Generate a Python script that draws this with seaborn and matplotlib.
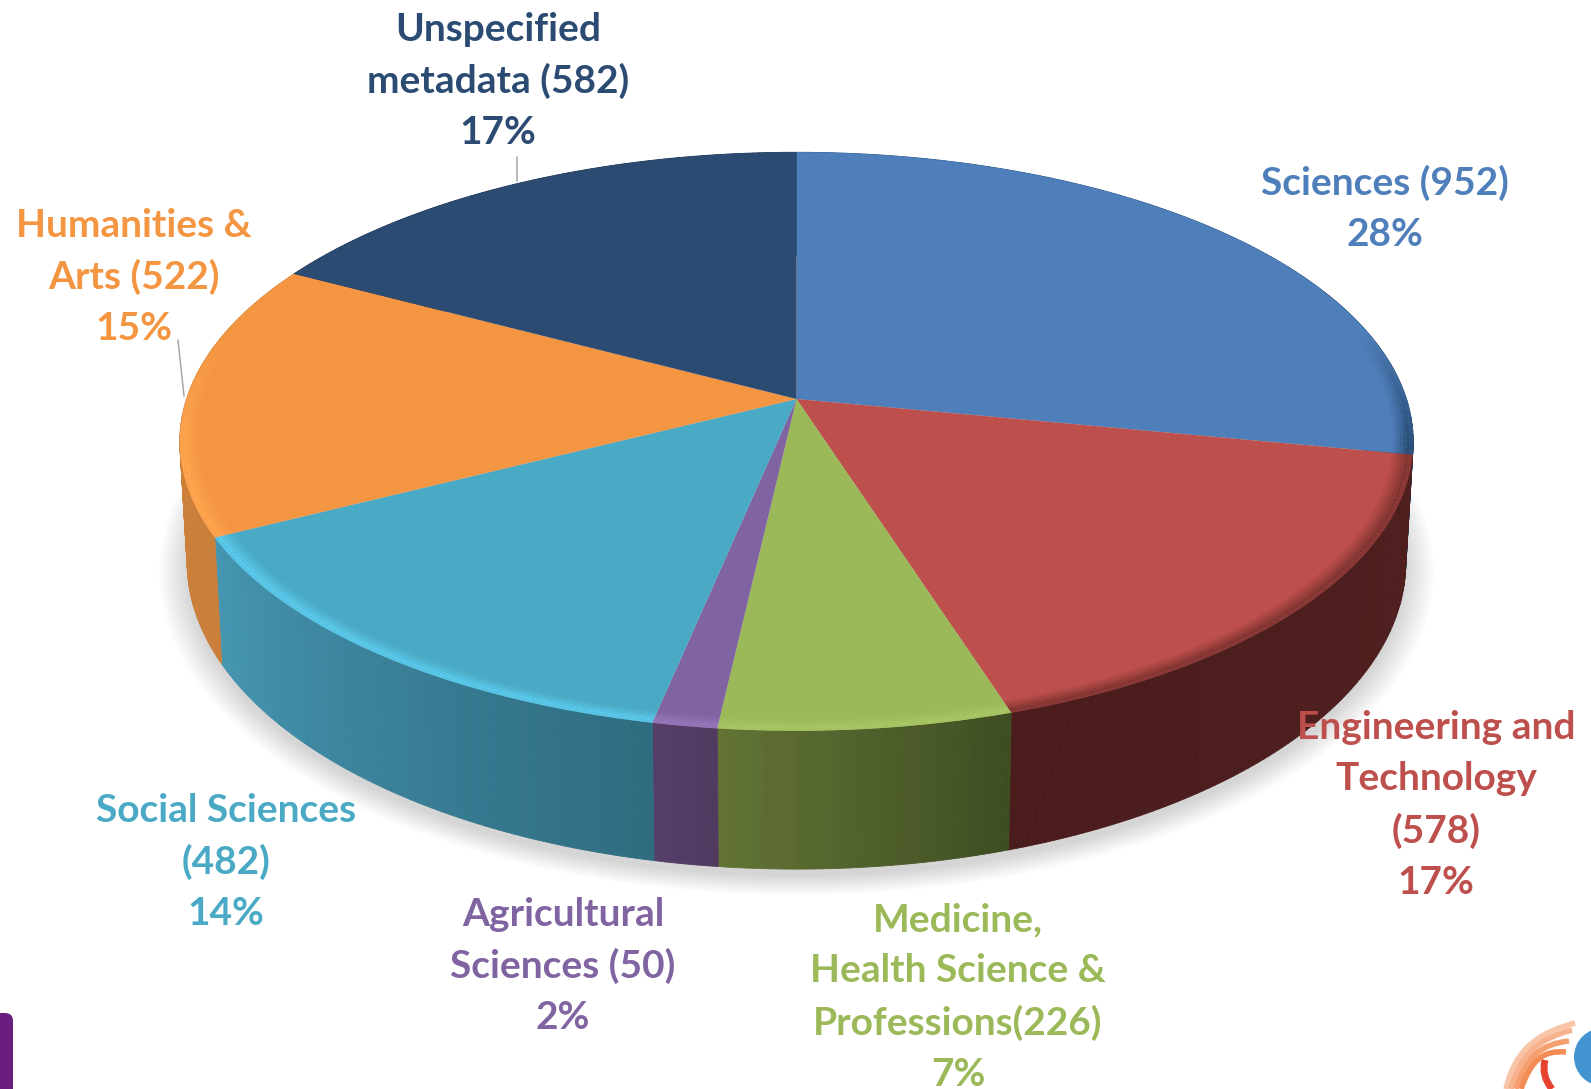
import numpy as np
import matplotlib
matplotlib.use("Agg")
import matplotlib.pyplot as plt
import seaborn as sns
from matplotlib.collections import PolyCollection
from matplotlib.colors import to_rgb
from matplotlib.patches import FancyBboxPatch, Circle, PathPatch
from matplotlib.path import Path
from matplotlib.transforms import Transform

sns.set_theme(style="white")
plt.rcParams["font.family"] = ["Lato", "DejaVu Sans"]

# ---------- data ----------
categories = ["Sciences", "Engineering and Technology", "Medicine, Health Science & Professions",
              "Agricultural Sciences", "Social Sciences", "Humanities & Arts", "Unspecified metadata"]
counts = [952, 578, 226, 50, 482, 522, 582]
percents = [28, 17, 7, 2, 14, 15, 17]
label_texts = ["Sciences (952)\n28%",
               "Engineering and\nTechnology\n(578)\n17%",
               "Medicine,\nHealth Science &\nProfessions(226)\n7%",
               "Agricultural\nSciences (50)\n2%",
               "Social Sciences\n(482)\n14%",
               "Humanities &\nArts (522)\n15%",
               "Unspecified\nmetadata (582)\n17%"]
top_colors = ["#4f7fba", "#bd4f4c", "#9bb958", "#8064a2", "#4aa9c4", "#f49542", "#2b4b73"]
wall_start = ["#2f5d90", "#4f1f1e", "#3f4e22", "#503a60", "#2f6c80", "#c97f3a", "#1d3350"]
wall_end = ["#24486f", "#4a1d1c", "#627335", "#553e68", "#4596b2", "#d0843c", "#1d3350"]
rim_colors = ["#27486f", "#7d3331", "#a9c765", "#9c7cc0", "#5ccbee", "#ffa64f", "#2c4d75"]
label_xy = [(1385, 208), (1436, 805), (958, 997), (563, 966), (226, 862), (134, 277), (498, 81)]

# ---------- geometry of the tilted disc (pixels) ----------
W, H = 1591, 1089
CX, CY = 796.5, 399.0
A, B, K = 283.0, 610.0, 0.147
DEPTH, BOTTOM_X = 118.0, 0.988


def project(x, y, drop=0.0, xs=1.0):
    d = 1 + K * np.asarray(y)
    return CX + xs * B * np.asarray(x) / d, CY - A * np.asarray(y) / d + drop / d


class Perspective(Transform):
    input_dims = output_dims = 2
    is_separable = False
    has_inverse = False

    def transform_non_affine(self, values):
        v = np.asarray(values)
        return np.column_stack(project(v[:, 0], v[:, 1]))


fig = plt.figure(figsize=(W / 100, H / 100), dpi=100, facecolor="white")
ax = fig.add_axes([0, 0, 1, 1])

edges = 90 - 360 * np.concatenate([[0], np.cumsum(counts)]) / np.sum(counts)
theta = np.radians(np.linspace(0, 360, 721))

# soft shadow under the disc
for s in np.linspace(0.045, 0.0, 14):
    sx, sy = project((1 + s) * np.cos(theta), (1 + s) * np.sin(theta), DEPTH + 6, BOTTOM_X)
    ax.fill(sx, sy, color="#808080", alpha=0.024, lw=0, zorder=1)

# side wall, shaded along the rim
for i in range(len(counts)):
    t = np.radians(np.linspace(edges[i], edges[i + 1], max(4, int(abs(edges[i + 1] - edges[i]) * 1.5))))
    c0, c1 = np.array(to_rgb(wall_start[i])), np.array(to_rgb(wall_end[i]))
    polys, cols = [], []
    for j in range(len(t) - 1):
        xa, ya = project(np.cos(t[j:j + 2]), np.sin(t[j:j + 2]))
        xb, yb = project(np.cos(t[j:j + 2]), np.sin(t[j:j + 2]), DEPTH, BOTTOM_X)
        polys.append(np.column_stack([np.r_[xa, xb[::-1]], np.r_[ya, yb[::-1]]]))
        cols.append(c0 + (c1 - c0) * j / max(1, len(t) - 2))
    ax.add_collection(PolyCollection(polys, facecolors=cols, edgecolors=cols, linewidths=0.6, zorder=2))

# top face
ax.pie(counts, colors=top_colors, startangle=90, counterclock=False, radius=1,
       wedgeprops=dict(transform=Perspective() + ax.transData, linewidth=0, zorder=3))

# bevel along the front of the rim, fading out towards the back
radii = np.linspace(0.968, 1.0, 7)
alphas = [0.12, 0.3, 0.5, 0.75, 0.95, 0.85]
for i in range(len(counts)):
    t = np.radians(np.linspace(edges[i], edges[i + 1], 80))
    rgb = to_rgb(rim_colors[i])
    for r0, r1, al in zip(radii[:-1], radii[1:], alphas):
        polys, cols = [], []
        for j in range(len(t) - 1):
            seg = t[j:j + 2]
            fade = np.clip((0.25 - np.sin(seg.mean())) / 0.4, 0, 1)
            if fade <= 0:
                continue
            xa, ya = project(r0 * np.cos(seg), r0 * np.sin(seg))
            xb, yb = project(r1 * np.cos(seg), r1 * np.sin(seg))
            polys.append(np.column_stack([np.r_[xa, xb[::-1]], np.r_[ya, yb[::-1]]]))
            cols.append((*rgb, al * fade))
        if polys:
            ax.add_collection(PolyCollection(polys, facecolors=cols, edgecolors="none", zorder=4))

# leader lines
ax.plot([516.5, 516.5], [157, 181], color="#a6a6a6", lw=1.1, zorder=5)
ax.plot([178, 184], [340, 396], color="#a6a6a6", lw=1.1, zorder=5)

# labels
for txt, (lx, ly), col in zip(label_texts, label_xy, top_colors):
    ax.text(lx, ly, txt, color=col, fontsize=28, fontweight="bold", ha="center", va="center",
            linespacing=1.55, zorder=6, clip_on=False)

# slide decorations at the bottom edge
ax.add_patch(FancyBboxPatch((-20, 1013), 33, 110, boxstyle="round,pad=0,rounding_size=8",
                            fc="#6a1f7e", ec="#6a1f7e", lw=0, zorder=6, mutation_aspect=1))
ax.add_patch(Circle((1603, 1057), 29, fc="#4494d2", ec="none", zorder=6))
arc_ends = [(1575, 1023), (1572, 1030), (1569, 1041), (1566, 1052)]
arc_cols = ["#f9c5a8", "#f7b18c", "#f59f70", "#f48d55"]
for k, (end, col) in enumerate(zip(arc_ends, arc_cols)):
    p = Path([(1506 + k * 5, 1089), (1516 + k * 5, 1046 + k * 5), (1542, 1032 + k * 6), end],
             [Path.MOVETO, Path.CURVE4, Path.CURVE4, Path.CURVE4])
    ax.add_patch(PathPatch(p, fc="none", ec=col, lw=4, zorder=6))
p = Path([(1545, 1060), (1541, 1076), (1552, 1089)], [Path.MOVETO, Path.CURVE3, Path.CURVE3])
ax.add_patch(PathPatch(p, fc="none", ec="#e5432f", lw=5, zorder=6))

ax.set_xlim(0, W)
ax.set_ylim(H, 0)
ax.set_aspect("auto")
ax.axis("off")
fig.savefig("out.png", dpi=100, facecolor="white")
